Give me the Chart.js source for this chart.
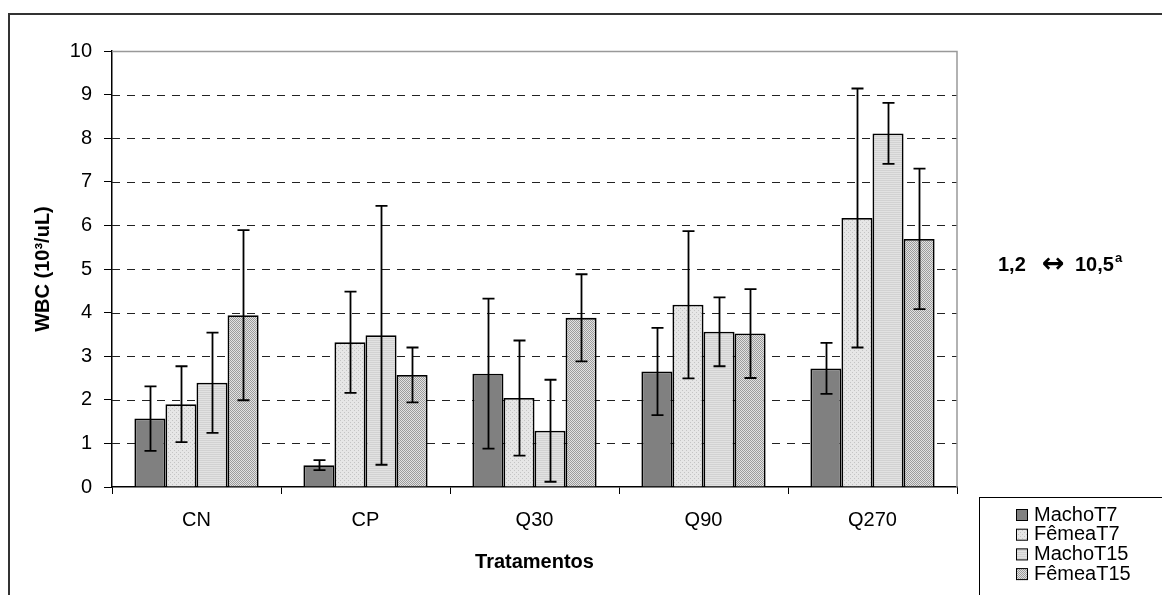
<!DOCTYPE html>
<html>
<head>
<meta charset="utf-8">
<script src="https://cdn.jsdelivr.net/npm/chart.js@4"></script>
<style>
  html, body { margin: 0; padding: 0; background: #fff; }
  #wrap { width: 1162px; height: 595px; position: relative; }
</style>
</head>
<body>
<div id="wrap"><canvas id="c" width="1162" height="595"></canvas></div>
<script>
// Treatments and series (WBC, 10^3/uL): means and standard deviations
const categories = ['CN', 'CP', 'Q30', 'Q90', 'Q270'];
const seriesNames = ['MachoT7', 'FêmeaT7', 'MachoT15', 'FêmeaT15'];
const machoT7 = [1.57, 0.50, 2.60, 2.65, 2.72];
const femeaT7 = [1.90, 3.32, 2.04, 4.18, 6.17];
const machoT15 = [2.39, 3.48, 1.29, 3.56, 8.11];
const femeaT15 = [3.94, 2.57, 3.88, 3.52, 5.69];
const machoT7Sd = [0.74, 0.115, 1.72, 1.00, 0.585];
const femeaT7Sd = [0.87, 1.16, 1.32, 1.69, 2.97];
const machoT15Sd = [1.15, 2.97, 1.17, 0.79, 0.70];
const femeaT15Sd = [1.95, 0.63, 1.00, 1.02, 1.61];
const yTicks = [0, 1, 2, 3, 4, 5, 6, 7, 8, 9, 10];
const rangeLow = '1,2';
const rangeHigh = '10,5';
const rangeSup = 'a';

const FONT = '"Liberation Sans", Arial, sans-serif';

// Fill patterns for the bars
function makePattern(size, painter) {
  const c = document.createElement('canvas');
  c.width = size; c.height = size;
  const g = c.getContext('2d');
  painter(g);
  return document.createElement('canvas').getContext('2d').createPattern(c, 'repeat');
}
const dotted = makePattern(4, g => {
  g.fillStyle = '#e6e6e6'; g.fillRect(0, 0, 4, 4);
  g.fillStyle = '#c4c4c4';
  g.fillRect(0, 0, 1, 1); g.fillRect(2, 2, 1, 1);
});
const striped = makePattern(2, g => {
  g.fillStyle = '#e2e2e2'; g.fillRect(0, 0, 2, 2);
  g.fillStyle = '#d2d2d2'; g.fillRect(0, 0, 2, 1);
});
const checker = makePattern(2, g => {
  g.fillStyle = '#e2e2e2'; g.fillRect(0, 0, 2, 2);
  g.fillStyle = '#9c9c9c';
  g.fillRect(0, 0, 1, 1); g.fillRect(1, 1, 1, 1);
});
const fills = ['#808080', dotted, striped, checker];
const values = [machoT7, femeaT7, machoT15, femeaT15];
const sds = [machoT7Sd, femeaT7Sd, machoT15Sd, femeaT15Sd];

// Dashed horizontal gridlines, top and right plot edges, error bars, frame, notes
const decor = {
  id: 'decor',
  beforeDatasetsDraw(chart) {
    const { ctx, chartArea: a, scales } = chart;
    const y = scales.y;
    ctx.save();
    ctx.lineWidth = 1.2;
    ctx.strokeStyle = '#222';
    ctx.setLineDash([8, 7]);
    yTicks.forEach(v => {
      if (v === 0 || v === 10) return;
      const py = Math.round(y.getPixelForValue(v)) + 0.5;
      ctx.beginPath(); ctx.moveTo(a.left, py); ctx.lineTo(a.right, py); ctx.stroke();
    });
    ctx.setLineDash([]);
    ctx.strokeStyle = '#999';
    ctx.lineWidth = 1.5;
    const top = Math.round(y.getPixelForValue(10)) + 0.5;
    ctx.beginPath();
    ctx.moveTo(a.left, top); ctx.lineTo(a.right, top);
    ctx.lineTo(a.right, a.bottom);
    ctx.stroke();
    ctx.restore();
  },
  afterDatasetsDraw(chart) {
    const { ctx, scales } = chart;
    const y = scales.y;
    ctx.save();
    ctx.strokeStyle = '#000';
    ctx.lineWidth = 1.8;
    values.forEach((vals, di) => {
      const meta = chart.getDatasetMeta(di);
      meta.data.forEach((bar, i) => {
        const hi = y.getPixelForValue(vals[i] + sds[di][i]);
        const lo = y.getPixelForValue(vals[i] - sds[di][i]);
        const x = Math.round(bar.x) + 0.5;
        ctx.beginPath();
        ctx.moveTo(x, hi); ctx.lineTo(x, lo);
        ctx.moveTo(x - 6, hi); ctx.lineTo(x + 6, hi);
        ctx.moveTo(x - 6, lo); ctx.lineTo(x + 6, lo);
        ctx.stroke();
      });
    });
    ctx.restore();
  },
  afterDraw(chart) {
    const { ctx } = chart;
    ctx.save();
    // outer frame
    ctx.strokeStyle = '#333';
    ctx.lineWidth = 2;
    ctx.beginPath();
    ctx.moveTo(1162, 14); ctx.lineTo(9, 14); ctx.lineTo(9, 595);
    ctx.stroke();

    // reference range note: "1,2 <-> 10,5^a"
    ctx.fillStyle = '#000';
    ctx.textBaseline = 'alphabetic';
    ctx.textAlign = 'left';
    ctx.font = 'bold 20px ' + FONT;
    ctx.fillText(rangeLow, 998, 271);
    ctx.font = 'bold 27px "DejaVu Sans", sans-serif';
    ctx.fillText('\u2194', 1042, 272);
    ctx.font = 'bold 20px ' + FONT;
    ctx.fillText(rangeHigh, 1075, 271);
    const w = ctx.measureText(rangeHigh).width;
    ctx.font = 'bold 13px ' + FONT;
    ctx.fillText(rangeSup, 1075 + w + 1, 262);

    // legend box
    ctx.strokeStyle = '#000';
    ctx.lineWidth = 1;
    ctx.strokeRect(979.5, 497.5, 200, 120);
    ctx.font = '20px ' + FONT;
    ctx.textBaseline = 'middle';
    seriesNames.forEach((name, i) => {
      const cy = 514 + i * 19.7;
      ctx.fillStyle = fills[i];
      ctx.fillRect(1016, cy - 5, 12, 12);
      ctx.strokeStyle = '#000';
      ctx.strokeRect(1016.5, cy - 4.5, 11, 11);
      ctx.fillStyle = '#000';
      ctx.fillText(name, 1034, cy + 1);
    });
    ctx.restore();
  }
};

new Chart(document.getElementById('c'), {
  type: 'bar',
  data: {
    labels: categories,
    datasets: seriesNames.map((name, i) => ({
      label: name,
      data: values[i],
      backgroundColor: fills[i],
      borderColor: '#000',
      borderWidth: 1.8,
      borderSkipped: 'bottom',
      categoryPercentage: 0.735,
      barPercentage: 1.0
    }))
  },
  options: {
    responsive: false,
    animation: false,
    devicePixelRatio: 1,
    layout: { padding: { left: 12, right: 205, top: 51, bottom: 0 } },
    plugins: { legend: { display: false }, tooltip: { enabled: false } },
    scales: {
      x: {
        grid: { display: true, drawOnChartArea: false, drawTicks: true, tickLength: 7, color: '#000', tickColor: '#000', offset: true },
        border: { display: true, color: '#000', width: 1.5 },
        ticks: { color: '#000', font: { family: FONT, size: 20 }, padding: 14 },
        title: { display: true, text: 'Tratamentos', color: '#000', font: { family: FONT, size: 20, weight: 'bold' }, padding: { top: 0, bottom: 21 } },
        afterFit(s) { s.height = 108; }
      },
      y: {
        min: 0, max: 10,
        afterBuildTicks(s) { s.ticks = yTicks.map(v => ({ value: v })); },
        grid: { display: true, drawOnChartArea: false, drawTicks: true, tickLength: 8, tickColor: '#000', color: '#000' },
        border: { display: true, color: '#000', width: 1.5 },
        ticks: { color: '#000', font: { family: FONT, size: 20 }, padding: 12 },
        title: { display: true, text: 'WBC (10\u00b3/uL)', color: '#000', font: { family: FONT, size: 20, weight: 'bold' }, padding: { top: 19, bottom: 0 } },
        afterFit(s) { s.width = 100; }
      }
    }
  },
  plugins: [decor]
});
</script>
</body>
</html>
